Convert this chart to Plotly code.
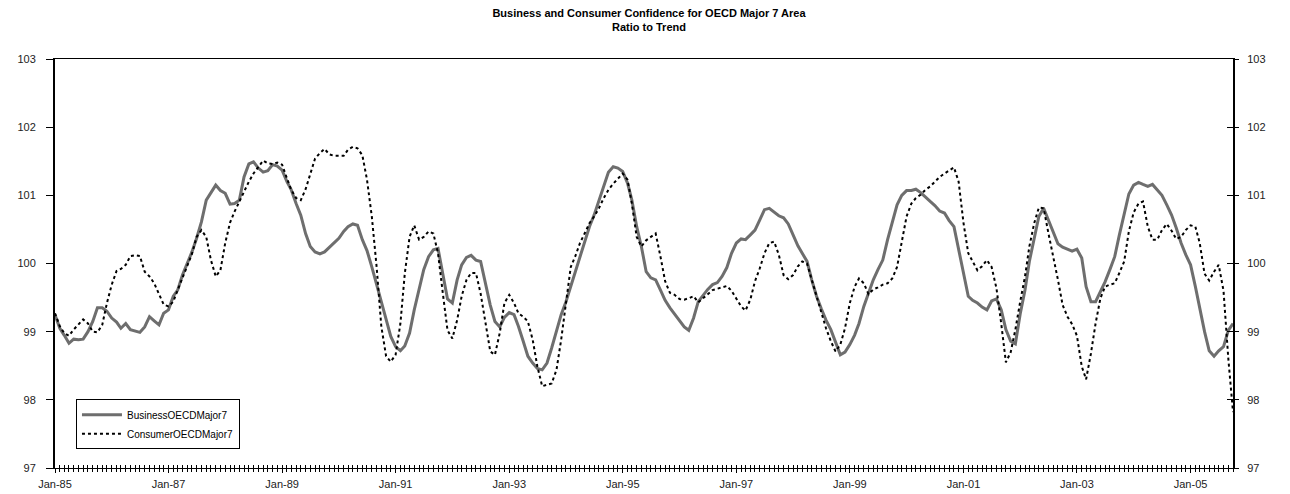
import plotly.graph_objects as go
import pandas as pd

months = pd.date_range("1985-01-01", periods=250, freq="MS")

business = [
    99.25, 99.05, 98.95, 98.83, 98.89, 98.88, 98.89, 99.00, 99.15, 99.35,
    99.35, 99.30, 99.20, 99.14, 99.05, 99.12, 99.03, 99.01, 98.99, 99.07,
    99.22, 99.16, 99.10, 99.27, 99.32, 99.52, 99.61, 99.83, 100.00, 100.17,
    100.37, 100.61, 100.93, 101.04, 101.15, 101.07, 101.03, 100.87, 100.88, 100.93,
    101.27, 101.46, 101.49, 101.40, 101.34, 101.36, 101.45, 101.43, 101.37, 101.20,
    101.08, 100.88, 100.71, 100.44, 100.25, 100.17, 100.14, 100.17, 100.24, 100.30,
    100.37, 100.47, 100.54, 100.58, 100.56, 100.35, 100.19, 99.95, 99.69, 99.42,
    99.15, 98.93, 98.78, 98.72, 98.79, 98.98, 99.32, 99.64, 99.91, 100.10,
    100.20, 100.22, 99.86, 99.48, 99.42, 99.76, 99.98, 100.09, 100.12, 100.05,
    100.03, 99.71, 99.39, 99.15, 99.07, 99.21, 99.28, 99.25, 99.08, 98.86,
    98.64, 98.54, 98.46, 98.44, 98.54, 98.76, 99.03, 99.25, 99.44, 99.66,
    99.88, 100.10, 100.32, 100.54, 100.71, 100.93, 101.13, 101.34, 101.42, 101.40,
    101.35, 101.18, 100.93, 100.54, 100.25, 99.88, 99.79, 99.76, 99.61, 99.46,
    99.35, 99.26, 99.15, 99.07, 99.02, 99.20, 99.44, 99.54, 99.62, 99.69,
    99.72, 99.81, 99.94, 100.15, 100.30, 100.36, 100.35, 100.42, 100.49, 100.64,
    100.79, 100.81, 100.76, 100.70, 100.67, 100.58, 100.42, 100.26, 100.15, 100.03,
    99.76, 99.52, 99.34, 99.17, 99.03, 98.86, 98.66, 98.70, 98.81, 98.95,
    99.12, 99.37, 99.56, 99.76, 99.91, 100.05, 100.35, 100.61, 100.86, 101.00,
    101.07, 101.07, 101.09, 101.04, 100.97, 100.91, 100.85, 100.77, 100.74, 100.63,
    100.54, 100.20, 99.82, 99.52, 99.46, 99.42, 99.36, 99.32, 99.45, 99.48,
    99.32, 99.03, 98.86, 98.82, 99.26, 99.61, 100.03, 100.37, 100.69, 100.81,
    100.64, 100.45, 100.29, 100.24, 100.21, 100.18, 100.21, 100.08, 99.66, 99.44,
    99.44, 99.58, 99.73, 99.91, 100.10, 100.42, 100.74, 101.02, 101.15, 101.19,
    101.16, 101.13, 101.16, 101.08, 101.00, 100.86, 100.71, 100.52, 100.30, 100.13,
    99.98, 99.66, 99.33, 99.00, 98.72, 98.64, 98.72, 98.78, 99.02, 99.12,
]

consumer = [
    99.27, 99.08, 98.98, 98.94, 99.03, 99.10, 99.18, 99.12, 99.00, 98.99,
    99.10, 99.42, 99.69, 99.89, 99.92, 99.98, 100.11, 100.12, 100.11, 99.88,
    99.81, 99.71, 99.56, 99.40, 99.37, 99.44, 99.61, 99.78, 99.95, 100.14,
    100.39, 100.49, 100.39, 100.05, 99.81, 99.90, 100.30, 100.60, 100.76, 100.91,
    101.06, 101.20, 101.32, 101.42, 101.51, 101.47, 101.46, 101.48, 101.45, 101.25,
    101.08, 100.96, 100.93, 101.09, 101.32, 101.54, 101.62, 101.68, 101.60, 101.58,
    101.58, 101.58, 101.67, 101.71, 101.69, 101.59, 101.23, 100.69, 99.95, 99.08,
    98.64, 98.56, 98.66, 99.12, 99.85, 100.39, 100.56, 100.35, 100.39, 100.47,
    100.44, 100.15, 99.56, 99.02, 98.90, 99.17, 99.52, 99.76, 99.86, 99.86,
    99.56, 99.12, 98.71, 98.66, 98.98, 99.42, 99.54, 99.42, 99.27, 99.22,
    99.15, 98.88, 98.49, 98.20, 98.22, 98.24, 98.44, 98.88, 99.42, 99.95,
    100.10, 100.30, 100.44, 100.59, 100.69, 100.81, 100.96, 101.08, 101.17, 101.24,
    101.32, 101.23, 100.88, 100.39, 100.25, 100.34, 100.39, 100.44, 100.10, 99.74,
    99.57, 99.54, 99.48, 99.47, 99.49, 99.52, 99.43, 99.49, 99.56, 99.61,
    99.63, 99.65, 99.67, 99.60, 99.49, 99.37, 99.31, 99.47, 99.74, 99.93,
    100.15, 100.30, 100.32, 100.13, 99.83, 99.77, 99.83, 99.96, 100.03, 100.00,
    99.76, 99.52, 99.30, 99.05, 98.86, 98.71, 98.81, 99.05, 99.42, 99.66,
    99.78, 99.71, 99.55, 99.62, 99.65, 99.69, 99.71, 99.78, 99.95, 100.30,
    100.69, 100.88, 100.96, 101.01, 101.08, 101.13, 101.20, 101.27, 101.32, 101.37,
    101.41, 101.20, 100.60, 100.15, 100.02, 99.90, 99.96, 100.05, 99.95, 99.64,
    99.12, 98.55, 98.70, 99.03, 99.44, 99.81, 100.25, 100.59, 100.82, 100.81,
    100.45, 100.13, 99.76, 99.39, 99.22, 99.11, 98.94, 98.49, 98.30, 98.68,
    99.12, 99.49, 99.66, 99.69, 99.71, 99.86, 100.03, 100.47, 100.75, 100.88,
    100.91, 100.54, 100.35, 100.35, 100.49, 100.58, 100.48, 100.36, 100.39, 100.49,
    100.56, 100.54, 100.30, 99.85, 99.75, 99.88, 99.98, 99.60, 98.60, 97.82,
]

series_names = ["BusinessOECDMajor7", "ConsumerOECDMajor7"]
title_lines = ["Business and Consumer Confidence for OECD Major 7 Area", "Ratio to Trend"]
y_range = [97, 103]
x_range = [months[0], months[-1]]

FONT = "Liberation Sans, Arial, sans-serif"
W, H = 1282, 486  # page body adds an 8px offset

fig = go.Figure()
fig.add_trace(go.Scatter(
    x=months, y=business, name=series_names[0], mode="lines",
    line=dict(color="#6e6e6e", width=3),
))
fig.add_trace(go.Scatter(
    x=months, y=consumer, name=series_names[1], mode="lines",
    line=dict(color="#000000", width=2, dash="dot"),
))
# transparent helper traces so the secondary (right / crossing-tick) axes are drawn
fig.add_trace(go.Scatter(
    x=months, y=business, xaxis="x", yaxis="y2", mode="lines",
    opacity=0, showlegend=False, hoverinfo="skip", line=dict(width=0),
))
fig.add_trace(go.Scatter(
    x=months, y=business, xaxis="x2", yaxis="y3", mode="lines",
    opacity=0, showlegend=False, hoverinfo="skip", line=dict(width=0),
))

fig.update_layout(
    width=W, height=H, autosize=False,
    margin=dict(l=47, r=57, t=51, b=26),
    paper_bgcolor="white", plot_bgcolor="white",
    font=dict(family=FONT, size=10, color="#222222"),
    title=dict(
        text="<b>" + title_lines[0] + "</b><br><b>" + title_lines[1] + "</b>",
        x=0.5, xref="container", xanchor="center",
        y=0.982, yref="container", yanchor="top",
        font=dict(family=FONT, size=11, color="#000000"),
    ),
    showlegend=True,
    legend=dict(
        x=0.0178, y=0.168, xanchor="left", yanchor="top",
        bgcolor="white", bordercolor="black", borderwidth=1,
        font=dict(family=FONT, size=10, color="#000000"),
        tracegroupgap=0, itemwidth=40,
    ),
    xaxis=dict(
        type="date", range=x_range, automargin=False,
        tick0="1985-01-01", dtick="M24", tickformat="%b-%y",
        ticks="outside", ticklen=4, tickcolor="black", tickwidth=1,
        minor=dict(dtick="M1", ticks="outside", ticklen=3, tickcolor="black", tickwidth=1),
        showline=True, linecolor="black", linewidth=1, mirror=True,
        showgrid=False, zeroline=False,
        tickfont=dict(family=FONT, size=11, color="#222222"),
        ticklabelstandoff=2,
    ),
    xaxis2=dict(
        type="date", range=x_range, overlaying="x", side="bottom", anchor="y",
        automargin=False,
        tick0="1985-01-01", dtick="M24",
        ticks="inside", ticklen=3, tickcolor="black", tickwidth=1,
        minor=dict(dtick="M1", ticks="inside", ticklen=3, tickcolor="black", tickwidth=1),
        showticklabels=False, showline=False, showgrid=False, zeroline=False,
    ),
    yaxis=dict(
        range=y_range, dtick=1, tick0=97, automargin=False,
        ticks="outside", ticklen=7, tickcolor="black", tickwidth=1,
        showline=True, linecolor="black", linewidth=2,
        showgrid=False, zeroline=False,
        tickfont=dict(family=FONT, size=11, color="#222222"),
        ticklabelstandoff=8,
    ),
    yaxis2=dict(
        range=y_range, dtick=1, tick0=97, overlaying="y", side="right", anchor="x",
        automargin=False,
        ticks="outside", ticklen=4, tickcolor="black", tickwidth=1,
        showline=True, linecolor="black", linewidth=2,
        showgrid=False, zeroline=False,
        tickfont=dict(family=FONT, size=11, color="#222222"),
        ticklabelstandoff=6,
    ),
    yaxis3=dict(
        range=y_range, dtick=1, tick0=97, overlaying="y", side="right", anchor="x2",
        automargin=False,
        ticks="inside", ticklen=6, tickcolor="black", tickwidth=1,
        showticklabels=False, showline=False, showgrid=False, zeroline=False,
    ),
)

fig.write_html("out.html")
